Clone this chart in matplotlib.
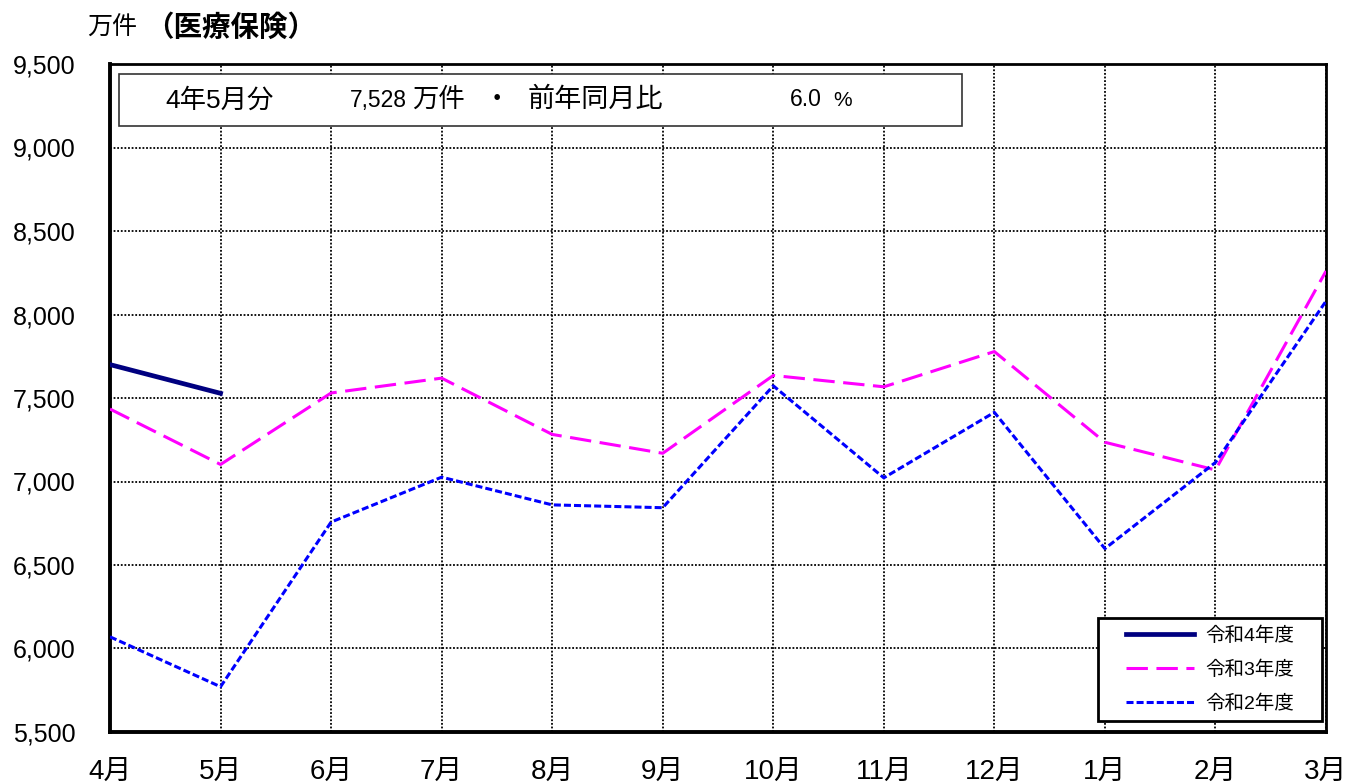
import matplotlib
matplotlib.use('Agg')
import matplotlib.pyplot as plt
from matplotlib.patches import Rectangle

plt.rcParams['font.family'] = ['Liberation Sans', 'Noto Sans CJK JP', 'DejaVu Sans']

months = ['4月', '5月', '6月', '7月', '8月', '9月', '10月', '11月', '12月', '1月', '2月', '3月']
r4 = [7700, 7528]
r3 = [7434, 7102, 7530, 7619, 7282, 7169, 7635, 7567, 7778, 7235, 7069, 8260]
r2 = [6070, 5771, 6757, 7026, 6860, 6843, 7573, 7022, 7414, 6598, 7114, 8080]
yticks = [5500, 6000, 6500, 7000, 7500, 8000, 8500, 9000, 9500]

W, H = 1216, 668  # axes size in px
fig = plt.figure(figsize=(13.51, 7.83), dpi=100)
ax = fig.add_axes([110 / 1351, 51 / 783, W / 1351, H / 783])

x = list(range(len(months)))
ax.plot(x[:len(r2)], r2, color='#0000ff', lw=2.2, dashes=(2.3, 1.0), label='令和2年度', zorder=4)
ax.plot(x[:len(r3)], r3, color='#ff00ff', lw=2.2, dashes=(7.0, 2.8), label='令和3年度', zorder=3)
ax.plot(x[:len(r4)], r4, color='#000080', lw=3.4, label='令和4年度', zorder=5)

ax.set_xlim(0, 11)
ax.set_ylim(5500, 9500)
ax.set_xticks(x)
ax.set_xticklabels(months, fontsize=20)
ax.set_yticks(yticks)
ax.set_yticklabels([f'{v:,}' for v in yticks], fontsize=18)
ax.tick_params(length=0)
ax.tick_params(axis='y', pad=25)
ax.tick_params(axis='x', pad=19)
ax.grid(True, color='black', linestyle=(0, (1, 1)), lw=1.3)
for s in ['left', 'bottom']:
    ax.spines[s].set_linewidth(2.8)
for s in ['top', 'right']:
    ax.spines[s].set_linewidth(2.0)

# title
fig.text(87 / 1351, 1 - 28 / 783, '万件', fontsize=18, va='center', ha='left')
fig.text(145 / 1351, 1 - 28 / 783, '（医療保険）', fontsize=20.5, va='center', ha='left', fontweight='bold')

# info box
box = Rectangle((9 / W, 1 - 62 / H), 843 / W, 52 / H, transform=ax.transAxes,
                facecolor='white', edgecolor='#333333', lw=1.2, zorder=6)
ax.add_patch(box)
ty = 1 - 36 / H
for xpos, txt, fs, ha in [(55, '4年5月分', 19, 'left'), (240, '7,528', 16.5, 'left'),
                          (302, '万件', 19, 'left'), (387, '・', 19, 'center'),
                          (418, '前年同月比', 19.5, 'left'), (680, '6.0', 16.5, 'left'),
                          (723, '%', 15, 'left')]:
    ax.text(xpos / W, ty, txt, transform=ax.transAxes, fontsize=fs, va='center', ha=ha, zorder=7)

# legend frame drawn separately
lbox = Rectangle(((1098 - 110) / W, (732 - 721) / H), 224 / W, 103 / H, transform=ax.transAxes,
                 facecolor='white', edgecolor='black', lw=2.0, zorder=8)
ax.add_patch(lbox)
handles, labels = ax.get_legend_handles_labels()
order = [2, 1, 0]
leg = ax.legend([handles[i] for i in order], [labels[i] for i in order], loc='center',
                bbox_to_anchor=((1210 - 110) / W, (732 - 669.5) / H), borderaxespad=0,
                fontsize=14, handlelength=3.5, labelspacing=0.8, borderpad=0,
                handletextpad=0.57, frameon=False)
leg.set_zorder(9)

fig.savefig('out.png', dpi=100)
